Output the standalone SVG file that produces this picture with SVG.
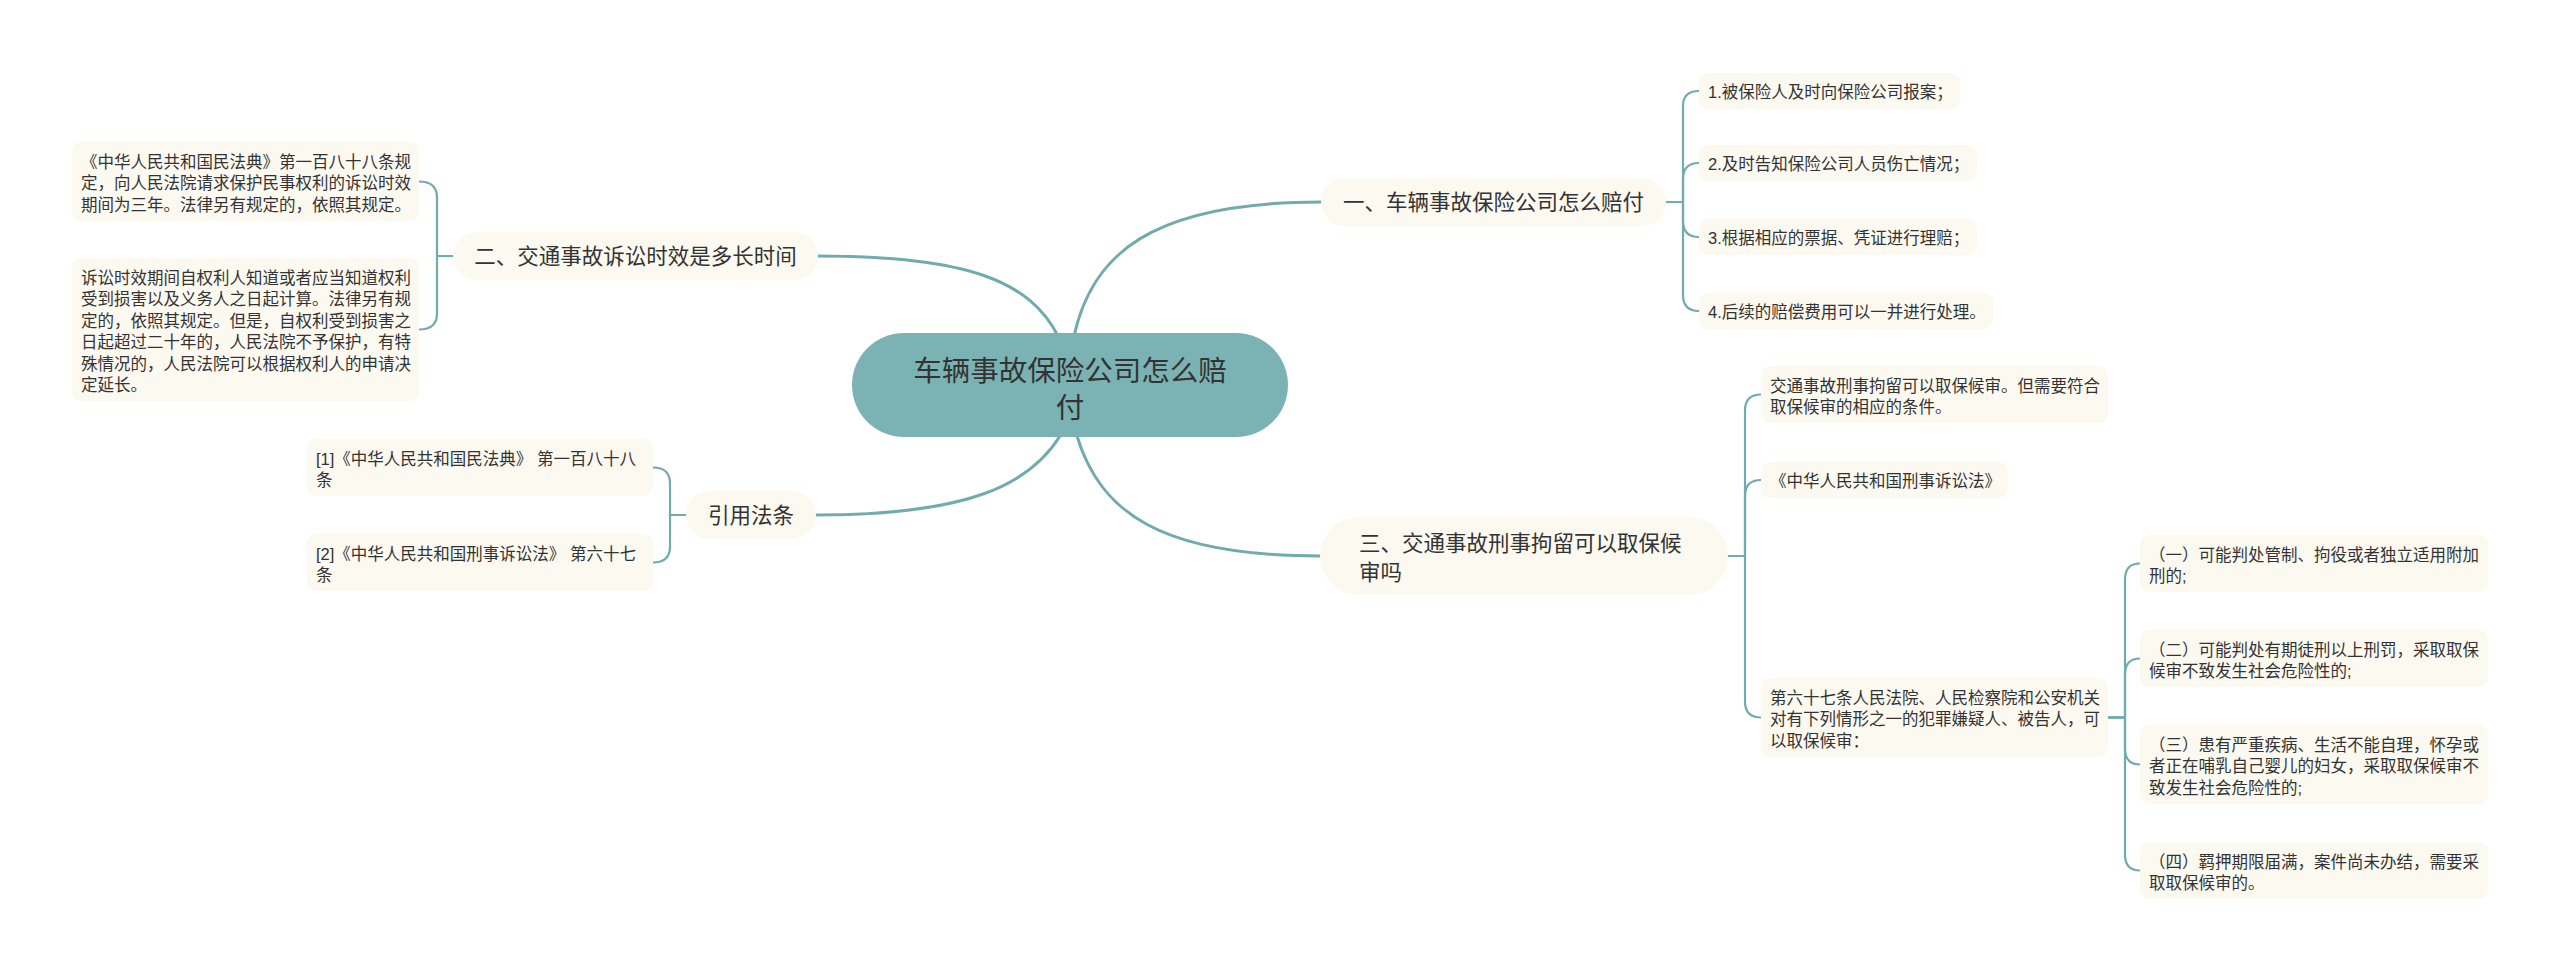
<svg xmlns="http://www.w3.org/2000/svg" width="2560" height="971" viewBox="0 0 2560 971">
<style>
text{font-family:"Liberation Sans","Noto Sans CJK SC",sans-serif;fill:#333333}
.root{font-size:28.5px;text-anchor:middle}
.br{font-size:21.5px}
.mid{text-anchor:middle}
.lf{font-size:16.5px}
.bn{fill:#fcf9f0}
.ln{fill:#fcf9f0}
.main{fill:none;stroke:#72abad;stroke-width:3;stroke-linecap:round}
.sub{fill:none;stroke:#72abad;stroke-width:2.2;stroke-linecap:round;stroke-linejoin:round}
</style>
<rect width="2560" height="971" fill="#ffffff"/>
<g id="connectors">
<path class="main" d="M1074,336 C1092,255 1150,202 1321,202"/>
<path class="main" d="M1058,336 C1030,282 970,256 818,256"/>
<path class="main" d="M1060,436 C1030,484 970,515 816,515"/>
<path class="main" d="M1077,436 C1100,512 1160,556 1320,556"/>
<path class="sub" d="M1666,202 H1683 V106 Q1683,91 1699,91"/>
<path class="sub" d="M1666,202 H1683 V179 Q1683,163 1699,163"/>
<path class="sub" d="M1666,202 H1683 V221 Q1683,237 1699,237"/>
<path class="sub" d="M1666,202 H1683 V295 Q1683,311 1699,311"/>
<path class="sub" d="M453,256 H437 V197.5 Q437,181.5 419,181.5"/>
<path class="sub" d="M453,256 H437 V313.5 Q437,329.5 419,329.5"/>
<path class="sub" d="M686,515 H670 V483.5 Q670,467.5 653,467.5"/>
<path class="sub" d="M686,515 H670 V546.5 Q670,562.5 653,562.5"/>
<path class="sub" d="M1728,556 H1745 V410.5 Q1745,394.5 1761,394.5"/>
<path class="sub" d="M1728,556 H1745 V496 Q1745,480 1761,480"/>
<path class="sub" d="M1728,556 H1745 V701.5 Q1745,717.5 1761,717.5"/>
<path class="sub" d="M2108,717.5 H2125 V579.5 Q2125,563.5 2140,563.5"/>
<path class="sub" d="M2108,717.5 H2125 V674.5 Q2125,658.5 2140,658.5"/>
<path class="sub" d="M2108,717.5 H2125 V748.5 Q2125,764.5 2140,764.5"/>
<path class="sub" d="M2108,717.5 H2125 V854.5 Q2125,870.5 2140,870.5"/>
</g>
<g id="root">
<rect x="852" y="333" width="436" height="104" rx="52" fill="#7bb3b5"/>
<text class="root" x="1070" y="381">车辆事故保险公司怎么赔</text>
<text class="root" x="1070" y="418">付</text>
</g>
<g id="branch1">
<rect class="bn" x="1321" y="178" width="345" height="48" rx="24"/>
<text class="br mid" x="1493.5" y="210">一、车辆事故保险公司怎么赔付</text>
</g>
<g id="branch2">
<rect class="bn" x="453" y="232" width="365" height="48" rx="24"/>
<text class="br mid" x="635.5" y="264">二、交通事故诉讼时效是多长时间</text>
</g>
<g id="branch-cite">
<rect class="bn" x="686" y="491" width="130" height="48" rx="24"/>
<text class="br mid" x="751" y="523">引用法条</text>
</g>
<g id="branch3">
<rect class="bn" x="1320" y="517" width="408" height="78" rx="39"/>
<text class="br" x="1359" y="551">三、交通事故刑事拘留可以取保候</text>
<text class="br" x="1359" y="579.5">审吗</text>
</g>
<g id="leaf-b1-1">
<rect class="ln" x="1699" y="73" width="261" height="36" rx="9"/>
<text class="lf" x="1708" y="97.5">1.被保险人及时向保险公司报案；</text>
</g>
<g id="leaf-b1-2">
<rect class="ln" x="1699" y="145" width="278" height="36" rx="9"/>
<text class="lf" x="1708" y="169.5">2.及时告知保险公司人员伤亡情况；</text>
</g>
<g id="leaf-b1-3">
<rect class="ln" x="1699" y="219" width="278" height="36" rx="9"/>
<text class="lf" x="1708" y="243.5">3.根据相应的票据、凭证进行理赔；</text>
</g>
<g id="leaf-b1-4">
<rect class="ln" x="1699" y="293" width="294" height="36" rx="9"/>
<text class="lf" x="1708" y="317.5">4.后续的赔偿费用可以一并进行处理。</text>
</g>
<g id="leaf-b2-1">
<rect class="ln" x="72" y="142" width="347" height="79" rx="9"/>
<text class="lf" x="81" y="167.5">《中华人民共和国民法典》第一百八十八条规</text>
<text class="lf" x="81" y="189">定，向人民法院请求保护民事权利的诉讼时效</text>
<text class="lf" x="81" y="210.5">期间为三年。法律另有规定的，依照其规定。</text>
</g>
<g id="leaf-b2-2">
<rect class="ln" x="72" y="258" width="347" height="143" rx="9"/>
<text class="lf" x="81" y="283.5">诉讼时效期间自权利人知道或者应当知道权利</text>
<text class="lf" x="81" y="305">受到损害以及义务人之日起计算。法律另有规</text>
<text class="lf" x="81" y="326.5">定的，依照其规定。但是，自权利受到损害之</text>
<text class="lf" x="81" y="348">日起超过二十年的，人民法院不予保护，有特</text>
<text class="lf" x="81" y="369.5">殊情况的，人民法院可以根据权利人的申请决</text>
<text class="lf" x="81" y="391">定延长。</text>
</g>
<g id="leaf-cite-1">
<rect class="ln" x="307" y="439" width="346" height="57" rx="9"/>
<text class="lf" x="316" y="464.5">[1]《中华人民共和国民法典》 第一百八十八</text>
<text class="lf" x="316" y="486">条</text>
</g>
<g id="leaf-cite-2">
<rect class="ln" x="307" y="534" width="346" height="57" rx="9"/>
<text class="lf" x="316" y="559.5">[2]《中华人民共和国刑事诉讼法》 第六十七</text>
<text class="lf" x="316" y="581">条</text>
</g>
<g id="leaf-b3-1">
<rect class="ln" x="1761" y="366" width="347" height="57" rx="9"/>
<text class="lf" x="1770" y="391.5">交通事故刑事拘留可以取保候审。但需要符合</text>
<text class="lf" x="1770" y="413">取保候审的相应的条件。</text>
</g>
<g id="leaf-b3-2">
<rect class="ln" x="1761" y="462" width="247" height="36" rx="9"/>
<text class="lf" x="1770" y="486.5">《中华人民共和国刑事诉讼法》</text>
</g>
<g id="leaf-b3-3">
<rect class="ln" x="1761" y="678" width="347" height="79" rx="9"/>
<text class="lf" x="1770" y="703.5">第六十七条人民法院、人民检察院和公安机关</text>
<text class="lf" x="1770" y="725">对有下列情形之一的犯罪嫌疑人、被告人，可</text>
<text class="lf" x="1770" y="746.5">以取保候审：</text>
</g>
<g id="leaf-b3-3-1">
<rect class="ln" x="2140" y="535" width="348" height="57" rx="9"/>
<text class="lf" x="2149" y="560.5">（一）可能判处管制、拘役或者独立适用附加</text>
<text class="lf" x="2149" y="582">刑的;</text>
</g>
<g id="leaf-b3-3-2">
<rect class="ln" x="2140" y="630" width="348" height="57" rx="9"/>
<text class="lf" x="2149" y="655.5">（二）可能判处有期徒刑以上刑罚，采取取保</text>
<text class="lf" x="2149" y="677">候审不致发生社会危险性的;</text>
</g>
<g id="leaf-b3-3-3">
<rect class="ln" x="2140" y="725" width="348" height="79" rx="9"/>
<text class="lf" x="2149" y="750.5">（三）患有严重疾病、生活不能自理，怀孕或</text>
<text class="lf" x="2149" y="772">者正在哺乳自己婴儿的妇女，采取取保候审不</text>
<text class="lf" x="2149" y="793.5">致发生社会危险性的;</text>
</g>
<g id="leaf-b3-3-4">
<rect class="ln" x="2140" y="842" width="348" height="57" rx="9"/>
<text class="lf" x="2149" y="867.5">（四）羁押期限届满，案件尚未办结，需要采</text>
<text class="lf" x="2149" y="889">取取保候审的。</text>
</g>
</svg>
